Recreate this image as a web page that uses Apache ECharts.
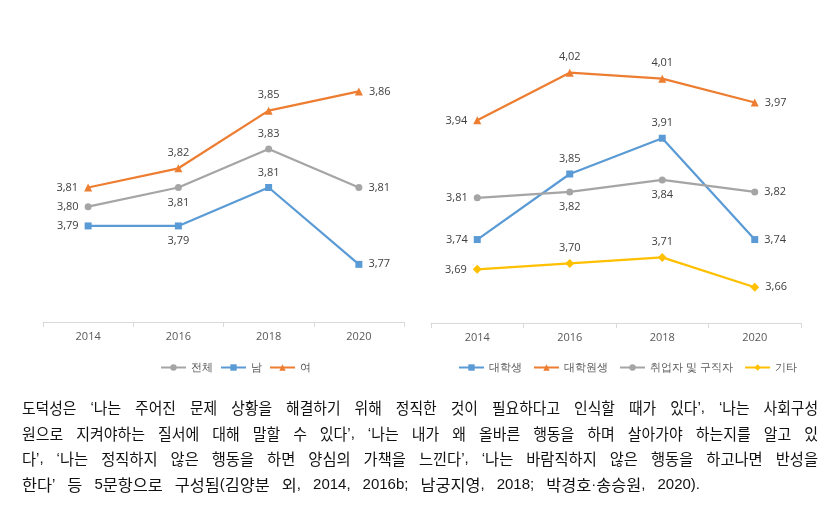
<!DOCTYPE html>
<html><head><meta charset="utf-8">
<script src="https://cdn.jsdelivr.net/npm/echarts@6/dist/echarts.min.js"></script>
<style>html,body{margin:0;padding:0;background:#fff}#c{width:838px;height:508px}</style>
</head><body><div id="c"></div><script>
const years = ['2014', '2016', '2018', '2020'];
const leftNames = ['전체', '남', '여'];
const totalVals = [3.80, 3.81, 3.83, 3.81];
const maleVals = [3.79, 3.79, 3.81, 3.77];
const femaleVals = [3.81, 3.82, 3.85, 3.86];
const rightNames = ['대학생', '대학원생', '취업자 및 구직자', '기타'];
const undergradVals = [3.74, 3.85, 3.91, 3.74];
const gradVals = [3.94, 4.02, 4.01, 3.97];
const jobVals = [3.81, 3.82, 3.84, 3.82];
const otherVals = [3.69, 3.70, 3.71, 3.66];
const captionLines = [
  '도덕성은 ‘나는 주어진 문제 상황을 해결하기 위해 정직한 것이 필요하다고 인식할 때가 있다’, ‘나는 사회구성',
  '원으로 지켜야하는 질서에 대해 말할 수 있다’, ‘나는 내가 왜 올바른 행동을 하며 살아가야 하는지를 알고 있',
  '다’, ‘나는 정직하지 않은 행동을 하면 양심의 가책을 느낀다’, ‘나는 바람직하지 않은 행동을 하고나면 반성을',
  '한다’ 등 5문항으로 구성됨(김양분 외, 2014, 2016b; 남궁지영, 2018; 박경호·송승원, 2020).'
];

const GRAY = '#A5A5A5', BLUE = '#5B9BD5', ORANGE = '#ED7D31', YELLOW = '#FFC000';
const fmt = p => p.value.toFixed(2).replace('.', ',');

function mk(name, vals, color, symbol, size, pos, idx) {
  return {
    type: 'line', name: name, xAxisIndex: idx, yAxisIndex: idx,
    data: vals.map((v, i) => ({ value: v, label: { position: pos[i] } })),
    symbol: symbol, symbolSize: size,
    lineStyle: { color: color, width: 2.25 },
    itemStyle: { color: color },
    label: { show: true, formatter: fmt, color: '#404040', fontSize: 11,
             fontFamily: 'Open Sans, Noto Sans, sans-serif', distance: 6 },
    emphasis: { disabled: true }, z: 3
  };
}

const series = [
  mk(leftNames[0], totalVals, GRAY, 'circle', 7, ['left', 'bottom', 'top', 'right'], 0),
  mk(leftNames[1], maleVals, BLUE, 'rect', 7, ['left', 'bottom', 'top', 'right'], 0),
  mk(leftNames[2], femaleVals, ORANGE, 'triangle', 8, ['left', 'top', 'top', 'right'], 0),
  mk(rightNames[0], undergradVals, BLUE, 'rect', 7, ['left', 'top', 'top', 'right'], 1),
  mk(rightNames[1], gradVals, ORANGE, 'triangle', 8, ['left', 'top', 'top', 'right'], 1),
  mk(rightNames[2], jobVals, GRAY, 'circle', 7, ['left', 'bottom', 'bottom', 'right'], 1),
  mk(rightNames[3], otherVals, YELLOW, 'diamond', 9, ['left', 'top', 'top', 'right'], 1)
];

function xAx(idx) {
  return {
    type: 'category', gridIndex: idx, data: years, boundaryGap: true,
    axisLine: { lineStyle: { color: '#D9D9D9', width: 1 } },
    axisTick: { show: true, length: 5, lineStyle: { color: '#D9D9D9' } },
    axisLabel: { color: '#595959', fontSize: 11, margin: 9, fontFamily: 'Open Sans, Noto Sans, sans-serif' },
    splitLine: { show: false }
  };
}
function yAx(idx, min, max) {
  return { type: 'value', gridIndex: idx, min: min, max: max, show: false, splitLine: { show: false } };
}

// caption: lines justified; Hangul runs condensed so that word gaps match the reference
const hangulSize = 16, latinSize = 15;
const hangulFamily = '"Noto Sans CJK KR"';
const latinFamily = '"Liberation Sans", "Noto Sans CJK KR"';
const lineGap = [14, 13, 13, 12];
const cv = document.createElement('canvas').getContext('2d');
const isH = /[\uAC00-\uD7A3\u3131-\u318E]/;
function runsOf(word) {
  const parts = word.match(/[\uAC00-\uD7A3\u3131-\u318E]+|[^\uAC00-\uD7A3\u3131-\u318E]+/g) || [];
  return parts.map(t => {
    const h = isH.test(t);
    const fam = h ? hangulFamily : latinFamily;
    const size = h ? hangulSize : latinSize;
    cv.font = size + 'px ' + fam;
    return { t: t, h: h, fam: fam, size: size, w0: cv.measureText(t).width };
  });
}
const capLeft = 22, capRight = 818, lastRight = 700, capY0 = 408, capDy = 25.6;
const graphics = [];
captionLines.forEach((line, li) => {
  const words = line.split(' ').map(runsOf);
  let hSum = 0, lSum = 0;
  words.forEach(rs => rs.forEach(r => { if (r.h) hSum += r.w0; else lSum += r.w0; }));
  const last = li === captionLines.length - 1;
  const W = (last ? lastRight : capRight) - capLeft;
  const gap = lineGap[li];
  const s = (W - lSum - gap * (words.length - 1)) / hSum;
  let x = capLeft;
  words.forEach(runs => {
    runs.forEach(r => {
      const sc = r.h ? s : 1;
      graphics.push({
        type: 'text', x: x, y: capY0 + li * capDy, scaleX: sc,
        style: { text: r.t, fontSize: r.size, fontFamily: r.fam, fill: '#111', verticalAlign: 'middle' }
      });
      x += r.w0 * sc;
    });
    x += gap;
  });
});

const chart = echarts.init(document.getElementById('c'));
chart.setOption({
  animation: false,
  backgroundColor: '#fff',
  grid: [
    { left: 43, right: 434, top: 53, bottom: 186 },
    { left: 431, right: 37, top: 25, bottom: 185 }
  ],
  xAxis: [xAx(0), xAx(1)],
  yAxis: [yAx(0, 3.74, 3.88), yAx(1, 3.60, 4.10)],
  legend: [
    { data: leftNames, left: 155, top: 357, itemGap: 7, itemWidth: 25, itemHeight: 8,
      textStyle: { color: '#595959', fontSize: 11 } },
    { data: rightNames, left: 453, top: 357, itemGap: 11, itemWidth: 25, itemHeight: 8,
      textStyle: { color: '#595959', fontSize: 11 } }
  ],
  series: series,
  graphic: graphics
});
</script></body></html>
